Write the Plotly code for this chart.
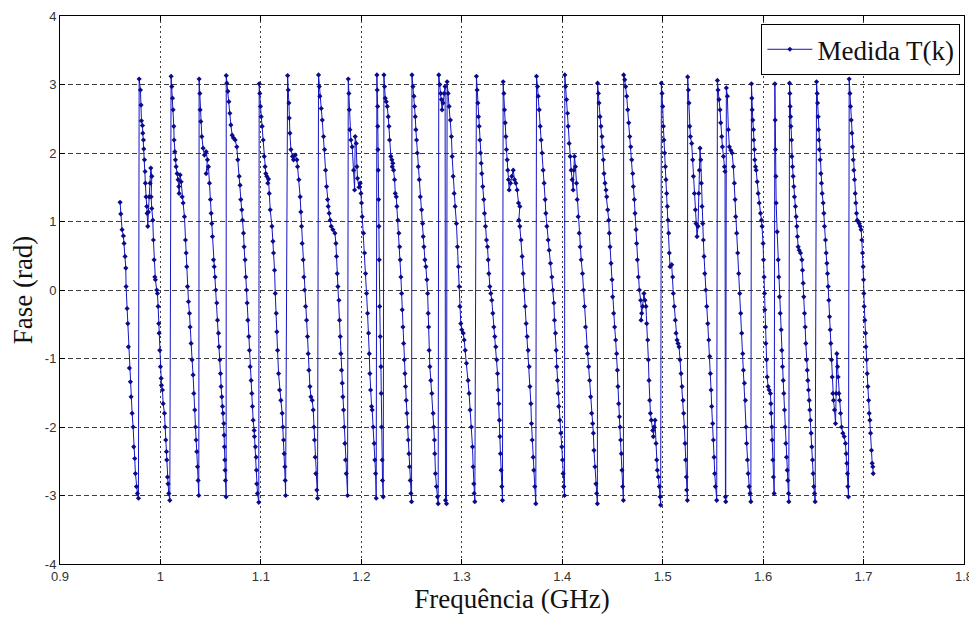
import plotly.graph_objects as go

freq_mhz = [
    # ramp 0
    959.8, 960.5, 961.8, 963.1, 963.8, 964.8, 965.5, 965.8, 966.8, 967.5, 968.1, 969.1, 970.1, 970.8,
    971.8, 972.8, 973.4, 974.4, 975.1, 976.1, 977.1, 978.1,
    # ramp 1
    978.8, 980.1, 980.7, 981.1, 982.1, 982.4, 983.1, 983.4, 984.1, 984.7, 985.0, 985.7, 986.4, 986.7,
    987.4, 988.0, 988.7, 989.7, 990.4, 991.4, 990.7, 991.4, 992.4, 993.0, 993.7, 994.4, 995.0, 996.3,
    997.0, 997.7, 998.3, 998.7, 999.3, 1000.0, 1000.7, 1001.0, 1002.0, 1002.7, 1004.0, 1004.6, 1005.3,
    1006.0, 1006.3, 1007.0, 1007.6, 1008.3, 1009.3,
    # ramp 2
    1010.6, 1011.3, 1012.0, 1012.6, 1013.3, 1013.6, 1014.3, 1014.9, 1015.6, 1016.6, 1017.6, 1018.3,
    1018.6, 1019.6, 1020.6, 1021.6, 1022.6, 1023.9, 1024.9, 1025.6, 1026.2, 1026.9, 1027.9, 1028.9,
    1029.5, 1030.5, 1031.5, 1032.5, 1033.2, 1034.2, 1034.9, 1035.5, 1036.2, 1036.9, 1037.5, 1038.2,
    # ramp 3
    1038.5, 1039.2, 1039.5, 1040.2, 1041.2, 1042.5, 1043.8, 1045.5, 1046.8, 1045.5, 1047.8, 1048.8,
    1049.8, 1050.5, 1051.1, 1051.8, 1052.8, 1053.5, 1054.4, 1055.1, 1056.1, 1056.8, 1057.8, 1058.4,
    1059.1, 1059.8, 1060.4, 1061.1, 1061.8, 1062.4, 1063.1, 1063.4, 1063.7, 1064.1, 1064.4, 1064.7, 1065.4,
    # ramp 4
    1065.5, 1066.1, 1067.1, 1068.1, 1069.1, 1070.1, 1071.4, 1072.7, 1074.4, 1076.0, 1077.0, 1078.4,
    1079.3, 1080.0, 1081.0, 1081.7, 1082.7, 1083.3, 1084.3, 1085.0, 1085.7, 1086.3, 1087.0, 1088.0,
    1088.6, 1089.3, 1090.3, 1091.0, 1091.6, 1092.3, 1093.3, 1093.6, 1094.6, 1095.3, 1095.6, 1095.9,
    1096.6, 1097.9,
    # ramp 5
    1098.3, 1098.9, 1099.6, 1100.3, 1101.3, 1102.3, 1103.3, 1104.2, 1104.9, 1105.9, 1106.9, 1107.6,
    1108.3, 1109.3, 1111.0, 1112.0, 1112.6, 1113.6, 1114.3, 1115.3, 1115.9, 1116.6, 1117.6, 1118.6,
    1119.9, 1121.2, 1121.9, 1122.6, 1123.2, 1123.9, 1124.2, 1124.6,
    # ramp 6
    1126.6, 1127.2, 1127.9, 1128.2, 1128.9, 1129.9, 1131.5, 1132.5, 1134.2, 1135.8, 1136.5, 1137.8,
    1139.1, 1139.8, 1140.5, 1141.1, 1142.1, 1142.8, 1143.5, 1144.5, 1145.5, 1146.4, 1147.1, 1147.8,
    1148.8, 1149.8, 1151.1, 1152.1, 1152.8, 1153.4, 1154.1, 1154.7, 1155.7, 1156.4,
    # ramp 7
    1157.4, 1158.1, 1158.7, 1160.1, 1161.1, 1162.4, 1163.4, 1164.4, 1165.4, 1166.4, 1167.0, 1168.0,
    1169.0, 1170.0, 1171.7, 1173.7, 1174.7, 1175.3, 1176.0, 1176.7, 1177.7, 1178.3, 1179.0, 1179.6,
    1180.3, 1181.0, 1181.6, 1182.3, 1183.0, 1183.6, 1184.3, 1185.0, 1186.3,
    # ramp 8
    1187.0, 1187.6, 1188.0, 1188.6, 1189.6, 1190.9, 1192.3, 1193.3, 1193.9, 1194.9, 1195.6, 1196.2,
    1197.6, 1198.9, 1199.6, 1200.2, 1200.9, 1202.2, 1203.2, 1204.2, 1205.2, 1206.2, 1207.2, 1207.9,
    1208.5, 1209.2, 1210.2, 1210.8, 1211.8, 1212.8, 1213.5, 1214.2, 1214.8,
    # ramp 9
    1215.5, 1215.8, 1216.2, 1216.3, 1216.5, 1216.8, 1217.2, 1217.5, 1217.8, 1218.2, 1218.8, 1219.5,
    1219.8, 1220.1, 1220.8, 1221.1, 1221.8,
    # ramp 10
    1222.5, 1223.1, 1223.8, 1224.8, 1225.8, 1226.8, 1227.5, 1228.1, 1229.4, 1230.4, 1231.4, 1230.8,
    1232.1, 1233.1, 1233.8, 1234.8, 1235.4, 1236.4, 1237.4, 1238.1, 1238.7, 1239.4, 1240.1, 1240.7,
    1241.4, 1242.1, 1242.7, 1243.4, 1244.0, 1244.7, 1245.4, 1246.0, 1246.7, 1247.4, 1248.0, 1248.7,
    1249.4, 1250.0,
    # ramp 11
    1250.4, 1251.4, 1252.4, 1253.0, 1253.7, 1254.3, 1255.0, 1255.7, 1256.7, 1257.7, 1258.7, 1260.0,
    1261.0, 1261.6, 1262.3, 1263.3, 1264.3, 1265.3, 1266.0, 1266.6, 1267.0, 1267.5, 1268.2, 1269.2,
    1270.2, 1271.5, 1272.1, 1272.8, 1273.1, 1273.8, 1274.8, 1275.8, 1276.5,
    # ramp 12
    1277.1, 1278.1, 1279.1, 1279.8, 1280.4, 1281.4, 1282.4, 1283.4, 1283.8, 1284.8, 1285.4, 1286.4,
    1287.4, 1288.7, 1289.7, 1290.4, 1291.4, 1292.4, 1293.4, 1294.7, 1295.7, 1296.7, 1297.4, 1298.0,
    1299.0, 1300.0, 1301.4, 1302.4, 1303.4, 1304.7, 1306.3, 1307.3, 1308.3, 1309.6, 1310.7, 1311.3,
    1312.0, 1312.3, 1313.0,
    # ramp 13
    1314.6, 1315.3, 1316.0, 1316.6, 1317.3, 1318.0, 1318.6, 1319.3, 1319.9, 1320.9, 1321.9, 1322.6,
    1323.6, 1324.6, 1325.6, 1326.3, 1326.9, 1327.9, 1328.9, 1329.9, 1330.9, 1331.9, 1332.9, 1333.9,
    1334.9, 1335.6, 1336.2, 1336.9, 1337.5, 1337.9, 1338.5, 1339.2, 1339.9, 1340.5,
    # ramp 14
    1341.2, 1341.9, 1342.5, 1343.2, 1343.9, 1344.5, 1345.2, 1345.8, 1346.5, 1347.2, 1348.5, 1349.8,
    1351.2, 1352.5, 1353.8, 1355.1, 1356.5, 1357.8, 1356.8, 1357.8, 1359.1, 1360.1, 1361.1, 1362.1,
    1363.1, 1364.1, 1365.1, 1366.1, 1367.1, 1367.8, 1368.8, 1369.4, 1370.1, 1371.1, 1371.7, 1372.7,
    1373.7,
    # ramp 15
    1374.4, 1375.4, 1376.1, 1377.1, 1378.1, 1379.0, 1380.0, 1381.0, 1382.0, 1383.0, 1383.7, 1384.7,
    1386.0, 1387.0, 1388.3, 1389.7, 1390.7, 1391.7, 1392.3, 1393.3, 1394.0, 1394.6, 1395.3, 1396.0,
    1396.6, 1397.6, 1398.6, 1399.6, 1400.3, 1400.9, 1401.6, 1402.3,
    # ramp 16
    1402.6, 1403.3, 1404.3, 1405.3, 1405.9, 1406.9, 1407.9, 1408.9, 1409.9, 1410.9, 1411.6, 1412.2,
    1413.2, 1414.2, 1414.9, 1415.9, 1416.9, 1417.9, 1418.9, 1420.2, 1421.2, 1422.2, 1423.2, 1424.2,
    1425.3, 1426.3, 1427.3, 1428.3, 1429.3, 1430.3, 1431.0, 1431.6, 1432.6, 1433.6, 1434.3, 1435.0,
    # ramp 17
    1435.2, 1436.0, 1436.6, 1437.6, 1438.6, 1439.6, 1440.3, 1440.9, 1441.6, 1442.6, 1443.6, 1444.3,
    1445.3, 1446.3, 1446.9, 1447.6, 1448.6, 1449.6, 1450.2, 1451.2, 1452.2, 1453.2, 1454.2, 1454.9,
    1455.5, 1456.2, 1456.9, 1457.5, 1458.2, 1458.9, 1459.5, 1460.2, 1460.9,
    # ramp 18
    1461.2, 1462.2, 1463.2, 1464.2, 1465.2, 1466.2, 1467.2, 1468.2, 1469.2, 1470.2, 1470.8, 1471.8,
    1472.5, 1473.5, 1474.1, 1474.8, 1475.8, 1476.8, 1478.1, 1479.1, 1478.5, 1480.1, 1481.4, 1482.4,
    1483.4, 1484.1, 1485.1, 1485.8, 1486.4, 1487.1, 1487.8, 1488.7, 1490.1, 1491.4, 1490.7, 1492.4,
    1493.4, 1494.1, 1494.7, 1495.7, 1496.7, 1497.4, 1498.0,
    # ramp 19
    1498.7, 1499.4, 1500.0, 1500.7, 1501.3, 1502.0, 1502.7, 1503.3, 1504.0, 1504.7, 1505.3, 1506.0,
    1506.6, 1507.3, 1509.0, 1510.0, 1510.6, 1511.6, 1512.6, 1513.3, 1514.3, 1515.3, 1516.3, 1517.3,
    1518.3, 1519.3, 1520.3, 1520.9, 1521.6, 1522.3, 1522.9, 1523.6, 1523.9, 1524.6,
    # ramp 20
    1524.9, 1525.6, 1526.2, 1526.9, 1527.6, 1528.9, 1529.9, 1530.6, 1531.6, 1532.6, 1533.2, 1534.2,
    1535.2, 1535.9, 1536.6, 1537.2, 1537.9, 1538.5, 1539.2, 1539.9, 1540.5, 1541.2, 1541.9, 1542.9,
    1543.9, 1544.9, 1545.9, 1546.8, 1547.5, 1548.2, 1548.8, 1549.8, 1550.5, 1551.2, 1551.8, 1552.5,
    1553.8,
    # ramp 21
    1554.5, 1555.1, 1556.1, 1557.1, 1557.8, 1558.8, 1559.5, 1560.5, 1561.5, 1562.1, 1562.5, 1562.8,
    1563.4, 1564.4, 1565.4, 1566.4, 1567.8, 1569.1, 1570.4, 1571.4, 1572.1, 1572.7, 1573.7, 1574.7,
    1575.7, 1576.7, 1577.7, 1578.7, 1579.7, 1580.4, 1581.4, 1582.4, 1583.0, 1583.6, 1584.4, 1585.1,
    1586.1, 1587.0, 1587.8,
    # ramp 22
    1588.4, 1588.8, 1589.1, 1589.7, 1590.4, 1590.7, 1591.4, 1591.7, 1592.4, 1593.1, 1594.1, 1595.1,
    1596.1, 1597.4, 1598.4, 1599.0, 1600.0, 1600.4, 1601.0, 1601.4, 1601.7, 1602.4, 1602.7, 1603.4,
    1604.0, 1605.0, 1606.0, 1607.3, 1607.7, 1608.0, 1608.7, 1609.0, 1609.7, 1610.3, 1611.0,
    # ramp 23
    1611.7, 1612.0, 1612.3, 1612.7, 1613.0, 1614.0, 1615.0, 1615.6, 1616.3, 1617.0, 1618.0, 1618.6,
    1619.3, 1620.0, 1620.6, 1621.3, 1622.0, 1622.6, 1623.3, 1624.0, 1624.6, 1625.3, 1625.6,
    # ramp 24
    1626.3, 1626.6, 1626.9, 1627.3, 1627.6, 1628.3, 1628.6, 1629.3, 1629.9, 1630.6, 1631.2, 1632.2,
    1632.9, 1633.6, 1634.2, 1634.9, 1635.9, 1637.2, 1638.6, 1639.2, 1639.9, 1640.5, 1641.2, 1641.9,
    1642.5, 1643.2, 1643.9, 1644.5, 1645.2, 1645.9, 1646.5, 1647.2, 1647.8, 1648.5, 1649.2, 1649.8,
    1650.5, 1651.2, 1651.8,
    # ramp 25
    1653.2, 1653.8, 1654.2, 1654.8, 1655.2, 1655.5, 1656.1, 1656.8, 1657.5, 1658.1, 1658.8, 1659.8,
    1660.5, 1661.1, 1662.1, 1662.8, 1663.5, 1664.1, 1664.8, 1665.4, 1666.1, 1666.8, 1667.4, 1668.1,
    1668.8, 1669.4, 1670.1, 1671.1, 1672.1, 1672.7, 1673.4, 1674.1, 1674.7, 1675.4, 1676.1, 1677.1,
    1678.1, 1679.4, 1680.7, 1682.0, 1682.7, 1683.4, 1684.0, 1684.4, 1685.0,
    # ramp 26
    1685.7, 1686.4, 1687.0, 1687.7, 1688.4, 1689.0, 1689.7, 1690.3, 1691.0, 1691.7, 1692.3, 1693.0,
    1693.7, 1694.7, 1695.7, 1696.7, 1697.6, 1698.3, 1699.0, 1699.6, 1700.0, 1700.3, 1700.6, 1701.3,
    1702.0, 1702.3, 1703.0, 1703.6, 1704.3, 1705.0, 1705.6, 1706.3, 1707.0, 1707.9, 1708.6, 1709.2,
    1709.6,
]

fase_rad = [
    # ramp 0
    1.28, 1.11, 0.88, 0.79, 0.68, 0.49, 0.32, 0.05, -0.27, -0.49, -0.83, -1.14, -1.34, -1.56,
    -1.80, -2.00, -2.29, -2.46, -2.68, -2.87, -2.97, -3.04,
    # ramp 1
    3.08, 2.92, 2.70, 2.47, 2.40, 2.29, 2.19, 2.06, 1.90, 1.73, 1.56, 1.36, 1.22, 1.12,
    0.93, 1.14, 1.36, 1.56, 1.78, 1.66, 1.36, 1.19, 1.02, 0.73, 0.44, 0.19, 0.15, 0.00,
    -0.05, -0.24, -0.49, -0.63, -0.88, -1.12, -1.29, -1.39, -1.46, -1.66, -1.80, -2.00, -2.19,
    -2.36, -2.48, -2.73, -2.83, -2.97, -3.07,
    # ramp 2
    3.12, 2.97, 2.80, 2.63, 2.39, 2.19, 2.02, 1.90, 1.80, 1.70, 1.61, 1.51,
    1.41, 1.68, 1.58, 1.36, 1.27, 1.07, 0.73, 0.54, 0.34, 0.05, -0.17, -0.34,
    -0.54, -0.78, -1.02, -1.24, -1.51, -1.75, -2.00, -2.19, -2.36, -2.58, -2.78, -3.00,
    # ramp 3
    3.08, 2.87, 2.63, 2.46, 2.24, 2.07, 1.97, 2.02, 1.90, 1.70, 1.80, 1.56,
    1.32, 1.12, 0.97, 0.78, 0.44, 0.34, 0.19, 0.00, -0.19, -0.44, -0.63, -0.83,
    -1.02, -1.22, -1.41, -1.56, -1.70, -1.80, -1.95, -2.12, -2.29, -2.48, -2.63, -2.78, -3.02,
    # ramp 4
    3.13, 3.02, 2.90, 2.75, 2.58, 2.41, 2.26, 2.22, 2.19, 2.09, 1.90, 1.66,
    1.53, 1.32, 1.17, 1.02, 0.83, 0.63, 0.44, 0.19, 0.00, -0.19, -0.44, -0.68,
    -0.88, -1.12, -1.32, -1.51, -1.70, -1.90, -2.05, -2.14, -2.29, -2.44, -2.63, -2.83,
    -2.97, -3.10,
    # ramp 5
    3.01, 2.87, 2.68, 2.53, 2.39, 2.19, 1.95, 1.80, 1.70, 1.66, 1.56, 1.62,
    1.41, 1.17, 0.93, 0.71, 0.54, 0.29, -0.05, -0.34, -0.61, -0.88, -1.22, -1.46,
    -1.61, -1.80, -2.00, -2.19, -2.39, -2.58, -2.78, -3.00,
    # ramp 6
    3.13, 2.92, 2.73, 2.51, 2.29, 2.05, 1.95, 1.90, 1.97, 1.90, 1.80, 1.61,
    1.36, 1.14, 0.93, 0.68, 0.44, 0.19, 0.00, -0.24, -0.44, -0.68, -0.93, -1.17,
    -1.41, -1.56, -1.61, -1.75, -2.00, -2.19, -2.44, -2.68, -2.92, -3.04,
    # ramp 7
    3.14, 2.97, 2.83, 2.65, 2.48, 2.24, 2.05, 1.75, 1.51, 1.32, 1.22, 1.12,
    1.02, 0.93, 0.88, 0.83, 0.68, 0.49, 0.24, 0.05, -0.15, -0.44, -0.68, -0.93,
    -1.17, -1.36, -1.56, -1.75, -2.00, -2.24, -2.48, -2.68, -3.00,
    # ramp 8
    3.08, 2.87, 2.63, 2.34, 2.19, 2.09, 1.75, 1.46, 2.24, 2.14, 1.80, 1.63,
    1.50, 1.56, 1.41, 1.27, 1.07, 0.83, 0.54, 0.24, -0.05, -0.34, -0.63, -0.93,
    -1.22, -1.46, -1.70, -1.75, -2.00, -2.24, -2.48, -2.68, -3.04,
    # ramp 9
    3.14, 2.92, 2.68, 2.39, 2.05, 1.75, 1.32, 0.93, 0.44, -0.24, -0.68, -1.12,
    -1.51, -2.00, -2.48, -2.78, -3.02,
    # ramp 10
    3.14, 2.97, 2.80, 2.75, 2.68, 2.53, 2.39, 2.19, 1.95, 1.90, 1.85, 1.80,
    1.75, 1.61, 1.41, 1.36, 1.22, 1.02, 0.83, 0.63, 0.44, 0.19, -0.05, -0.29,
    -0.54, -0.78, -1.02, -1.22, -1.41, -1.61, -1.80, -2.00, -2.19, -2.39, -2.58, -2.78,
    -2.97, -3.09,
    # ramp 11
    3.14, 2.97, 2.83, 2.68, 2.53, 2.34, 2.19, 2.00, 1.80, 1.61, 1.36, 1.17,
    0.97, 0.78, 0.63, 0.44, 0.34, 0.15, -0.05, -0.34, -0.54, -0.88, -1.12, -1.32,
    -1.51, -1.80, -2.00, -2.19, -2.39, -2.68, -2.87, -3.02, -3.12,
    # ramp 12
    3.14, 3.00, 2.87, 2.78, 2.63, 2.73, 2.87, 2.97, -3.07, -3.12, 3.04, 2.87,
    2.68, 2.48, 2.24, 1.95, 1.66, 1.41, 1.22, 0.97, 0.63, 0.34, 0.05, -0.24,
    -0.49, -0.58, -0.63, -0.73, -0.88, -1.07, -1.32, -1.51, -1.75, -2.00, -2.29, -2.58,
    -2.83, -2.97, -3.09,
    # ramp 13
    3.12, 2.92, 2.73, 2.53, 2.39, 2.19, 2.00, 1.85, 1.70, 1.51, 1.32, 1.12,
    0.93, 0.73, 0.63, 0.44, 0.24, 0.05, -0.05, -0.15, -0.34, -0.54, -0.68, -0.83,
    -1.02, -1.22, -1.46, -1.66, -1.90, -2.14, -2.39, -2.63, -2.87, -3.07,
    # ramp 14
    3.04, 2.87, 2.63, 2.44, 2.24, 2.05, 1.90, 1.75, 1.61, 1.46, 1.56, 1.66,
    1.75, 1.61, 1.56, 1.46, 1.27, 1.22, 1.02, 0.93, 0.73, 0.49, 0.24, 0.00,
    -0.24, -0.49, -0.68, -0.88, -1.12, -1.41, -1.66, -1.95, -2.19, -2.44, -2.63, -2.87,
    -3.12,
    # ramp 15
    3.12, 2.97, 2.83, 2.63, 2.39, 2.19, 2.00, 1.75, 1.56, 1.32, 1.12, 0.93,
    0.73, 0.58, 0.39, 0.19, 0.00, -0.19, -0.44, -0.63, -0.88, -1.12, -1.32, -1.51,
    -1.70, -1.90, -2.09, -2.29, -2.48, -2.68, -2.87, -3.00,
    # ramp 16
    3.14, 2.97, 2.78, 2.58, 2.39, 2.14, 1.95, 1.75, 1.61, 1.46, 1.75, 1.95,
    1.80, 1.56, 1.32, 1.07, 0.83, 0.63, 0.44, 0.24, 0.00, -0.24, -0.54, -0.83,
    -0.93, -1.12, -1.32, -1.56, -1.80, -1.95, -2.09, -2.34, -2.58, -2.83, -2.97, -3.12,
    # ramp 17
    3.02, 2.87, 2.73, 2.53, 2.39, 2.24, 2.09, 1.90, 1.70, 1.56, 1.46, 1.36,
    1.17, 1.02, 0.83, 0.63, 0.39, 0.15, -0.10, -0.34, -0.54, -0.73, -0.93, -1.17,
    -1.41, -1.66, -1.85, -2.00, -2.19, -2.39, -2.63, -2.87, -3.07,
    # ramp 18
    3.14, 3.07, 2.97, 2.83, 2.63, 2.44, 2.24, 2.09, 1.90, 1.70, 1.51, 1.32,
    1.12, 0.88, 0.68, 0.44, 0.19, 0.00, -0.15, -0.34, -0.44, -0.24, -0.05, -0.15,
    -0.24, -0.49, -0.73, -1.02, -1.32, -1.61, -1.80, -1.90, -2.05, -2.00, -2.14, -1.90,
    -2.24, -2.48, -2.63, -2.73, -2.87, -3.02, -3.14,
    # ramp 19
    3.02, 2.87, 2.68, 2.39, 2.19, 2.00, 1.80, 1.61, 1.41, 1.22, 1.02, 0.83,
    0.54, 0.34, 0.37, 0.19, -0.05, -0.24, -0.44, -0.63, -0.73, -0.78, -0.83, -1.02,
    -1.22, -1.41, -1.61, -1.80, -2.00, -2.24, -2.48, -2.73, -2.92, -3.07,
    # ramp 20
    3.11, 2.92, 2.73, 2.39, 2.24, 2.14, 1.90, 1.66, 1.41, 1.17, 0.97, 0.78,
    0.93, 1.41, 1.75, 2.07, 1.90, 1.56, 1.22, 0.97, 0.73, 0.49, 0.24, 0.00,
    -0.24, -0.49, -0.73, -0.97, -1.22, -1.46, -1.70, -1.95, -2.19, -2.44, -2.68, -2.87,
    -3.07,
    # ramp 21
    3.06, 2.92, 2.78, 2.63, 2.44, 2.24, 2.09, 1.95, 1.80, 1.73, -3.02, -3.09,
    2.95, 2.83, 2.34, 2.09, 2.04, 2.00, 1.80, 1.56, 1.32, 1.07, 0.83, 0.54,
    0.24, -0.05, -0.34, -0.63, -0.93, -1.17, -1.36, -1.61, -2.00, -2.24, -2.48, -2.68,
    -2.87, -2.97, -3.09,
    # ramp 22
    3.01, 2.80, 2.63, 2.48, 2.34, 2.19, 2.05, 1.90, 1.80, 1.75, 1.58, 1.41,
    1.27, 1.12, 1.02, 0.93, 0.68, 0.44, 0.19, -0.05, -0.29, -0.54, -0.78, -1.02,
    -1.27, -1.41, -1.46, -1.51, -1.66, -1.80, -2.00, -2.19, -2.48, -2.73, -2.97,
    # ramp 23
    3.01, 2.48, 2.05, 1.66, 1.27, 0.85, 0.44, 0.19, -0.10, -0.34, -0.58, -0.88,
    -1.12, -1.32, -1.51, -1.75, -2.00, -2.24, -2.44, -2.63, -2.78, -2.97, -3.09,
    # ramp 24
    3.02, 2.87, 2.68, 2.53, 2.39, 2.19, 1.95, 1.80, 1.66, 1.51, 1.36, 1.22,
    1.07, 0.93, 0.78, 0.63, 0.58, 0.54, 0.44, 0.29, 0.10, -0.10, -0.34, -0.54,
    -0.78, -1.02, -1.17, -1.32, -1.46, -1.61, -1.75, -1.90, -2.09, -2.29, -2.48, -2.68,
    -2.87, -2.97, -3.09,
    # ramp 25
    3.04, 2.87, 2.73, 2.53, 2.34, 2.19, 2.05, 1.90, 1.70, 1.56, 1.41, 1.27,
    1.12, 0.93, 0.73, 0.54, 0.39, 0.24, 0.05, -0.15, -0.39, -0.58, -0.78, -1.02,
    -1.27, -1.51, -1.61, -1.75, -1.95, -1.51, -0.93, -1.12, -1.27, -1.51, -1.61, -1.80,
    -2.00, -2.09, -2.14, -2.24, -2.39, -2.53, -2.68, -2.87, -3.02,
    # ramp 26
    3.08, 2.87, 2.68, 2.48, 2.29, 2.09, 1.90, 1.75, 1.61, 1.41, 1.27, 1.12,
    1.02, 1.00, 0.97, 0.93, 0.88, 0.73, 0.54, 0.34, 0.15, -0.05, -0.24, -0.44,
    -0.63, -0.83, -1.02, -1.22, -1.41, -1.61, -1.80, -1.90, -2.09, -2.34, -2.53, -2.58,
    -2.68,
]

x_ticks = [0.9, 1.0, 1.1, 1.2, 1.3, 1.4, 1.5, 1.6, 1.7, 1.8]
x_tick_labels = ["0.9", "1", "1.1", "1.2", "1.3", "1.4", "1.5", "1.6", "1.7", "1.8"]
y_ticks = [-4, -3, -2, -1, 0, 1, 2, 3, 4]
y_tick_labels = ["-4", "-3", "-2", "-1", "0", "1", "2", "3", "4"]

series_name = "Medida T(k)"
x_title = "Frequência (GHz)"
y_title = "Fase (rad)"

freq_ghz = [f / 1000.0 for f in freq_mhz]

serif = "Liberation Serif, Times New Roman, serif"

fig = go.Figure()
fig.add_trace(go.Scatter(
    x=freq_ghz, y=fase_rad, mode="lines+markers", name=series_name,
    line=dict(color="#1414c8", width=1),
    marker=dict(symbol="diamond", size=4, color="#0a0a8c"),
))

axis_common = dict(
    showline=True, linecolor="black", linewidth=1, mirror="allticks",
    ticks="inside", ticklen=5, tickcolor="black",
    showgrid=True, gridcolor="rgba(40,40,40,0.9)", gridwidth=1,
    zeroline=False, automargin=False,
    tickfont=dict(family="Liberation Sans, Arial, sans-serif", size=13, color="#333333"),
)

fig.update_xaxes(
    range=[0.9, 1.8], tickvals=x_ticks, ticktext=x_tick_labels, griddash="2px,3px",
    title=dict(text=x_title, font=dict(family=serif, size=27, color="#111111"), standoff=4),
    **axis_common,
)
fig.update_yaxes(
    range=[-4, 4], tickvals=y_ticks, ticktext=y_tick_labels, griddash="5px,3px",
    title=dict(text=y_title, font=dict(family=serif, size=27, color="#111111"), standoff=4),
    **axis_common,
)

# The page body has an 8px default margin, so the figure is sized to fit the window
fig.update_layout(
    width=969, height=611,
    margin=dict(l=52, r=13, t=8, b=55),
    paper_bgcolor="white", plot_bgcolor="white",
    showlegend=True,
    legend=dict(
        x=0.996, y=0.985, xanchor="right", yanchor="top",
        bgcolor="white", bordercolor="black", borderwidth=1,
        font=dict(family=serif, size=27, color="#111111"),
        itemwidth=45, tracegroupgap=0,
    ),
)

fig.write_html("out.html")
